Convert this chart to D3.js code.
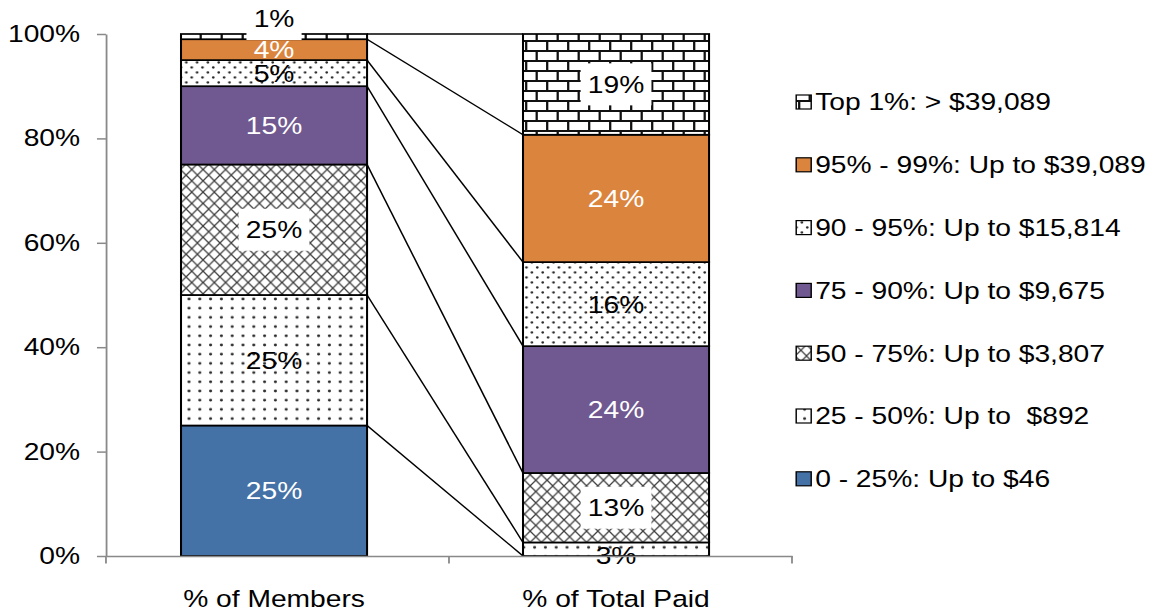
<!DOCTYPE html>
<html>
<head>
<meta charset="utf-8">
<script src="https://cdn.jsdelivr.net/npm/d3@7"></script>
<style>
  html, body { margin: 0; padding: 0; background: #fff; }
  svg { display: block; }
  text { font-family: "Liberation Sans", Arial, sans-serif; }
</style>
</head>
<body>
<script>
// Distribution of members vs. total paid, by spending tier
const categories = ["% of Members", "% of Total Paid"];
const tiers = [
  "0 - 25%: Up to $46",
  "25 - 50%: Up to  $892",
  "50 - 75%: Up to $3,807",
  "75 - 90%: Up to $9,675",
  "90 - 95%: Up to $15,814",
  "95% - 99%: Up to $39,089",
  "Top 1%: > $39,089"
];
const membersPct = [25, 25, 25, 15, 5, 4, 1];
const paidPct = [0, 2.6, 13.3, 24.3, 16.1, 24.4, 19.3];
const yTicks = [0, 20, 40, 60, 80, 100];

// Drawing surface: laid out on a 960-wide grid and stretched to the window width
const W = 960, H = 611;
const svg = d3.select("body").append("svg")
  .attr("width", 1152).attr("height", 611)
  .attr("viewBox", `0 0 ${W} ${H}`)
  .attr("preserveAspectRatio", "none");

const FONT = 23.5;
const defs = svg.append("defs");

// Fill patterns
const brick = defs.append("pattern").attr("id", "p-brick")
  .attr("patternUnits", "userSpaceOnUse").attr("width", 17.5).attr("height", 20);
brick.append("rect").attr("width", 17.5).attr("height", 20).attr("fill", "#fff");
brick.append("path").attr("d", "M0,1H17.5M0,11H17.5")
  .attr("stroke", "#111").attr("stroke-width", 2.2);
brick.append("path").attr("d", "M1,1V11M9.75,11V21")
  .attr("stroke", "#111").attr("stroke-width", 1.9);

const cw = 9.4, ch = 11.3;
const cross = defs.append("pattern").attr("id", "p-cross")
  .attr("patternUnits", "userSpaceOnUse").attr("width", cw).attr("height", ch);
cross.append("rect").attr("width", cw).attr("height", ch).attr("fill", "#fff");
cross.append("path")
  .attr("d", `M-1,${-ch / cw}L${cw + 1},${ch + ch / cw}M${cw + 1},${-ch / cw}L-1,${ch + ch / cw}`)
  .attr("stroke", "#3c3c3c").attr("stroke-width", 1.15);

const dotsGrid = defs.append("pattern").attr("id", "p-dots")
  .attr("patternUnits", "userSpaceOnUse").attr("width", 9).attr("height", 9.2);
dotsGrid.append("rect").attr("width", 9).attr("height", 9.2).attr("fill", "#fff");
dotsGrid.append("circle").attr("cx", 4.5).attr("cy", 4.6).attr("r", 1.3).attr("fill", "#2a2a2a");

const dotsStag = defs.append("pattern").attr("id", "p-dots2")
  .attr("patternUnits", "userSpaceOnUse").attr("width", 9).attr("height", 10);
dotsStag.append("rect").attr("width", 9).attr("height", 10).attr("fill", "#fff");
dotsStag.append("circle").attr("cx", 2.25).attr("cy", 2.5).attr("r", 1.15).attr("fill", "#2a2a2a");
dotsStag.append("circle").attr("cx", 6.75).attr("cy", 7.5).attr("r", 1.15).attr("fill", "#2a2a2a");

// Per-tier appearance (bottom tier first)
const tierStyle = [
  { fill: "#4471A6", text: "#fff", box: false },
  { fill: "url(#p-dots)", text: "#000", box: false },
  { fill: "url(#p-cross)", text: "#000", box: true },
  { fill: "#6F5990", text: "#fff", box: false },
  { fill: "url(#p-dots2)", text: "#000", box: false },
  { fill: "#DB843E", text: "#fff", box: false },
  { fill: "url(#p-brick)", text: "#000", box: true }
];

// Scales
const x = d3.scaleBand().domain(categories).range([88.3, 660])
  .paddingInner(0.456).paddingOuter(0.231).align(0.475);
const y = d3.scaleLinear().domain([0, 100]).range([556, 34]);

const series = [membersPct, paidPct];
const cums = series.map(vals => {
  const c = [0];
  vals.forEach(v => c.push(c[c.length - 1] + v));
  return c;
});

// Connector lines between matching tier boundaries
const bw = x.bandwidth();
const gConn = svg.append("g");
for (let i = 1; i <= tiers.length; i++) {
  gConn.append("line")
    .attr("x1", x(categories[0]) + bw).attr("y1", y(cums[0][i]))
    .attr("x2", x(categories[1])).attr("y2", y(cums[1][i]))
    .attr("stroke", "#000").attr("stroke-width", 1.3);
}

// Stacked segments
const gBars = svg.append("g");
categories.forEach((cat, ci) => {
  series[ci].forEach((v, ti) => {
    if (v <= 0) return;
    const y0 = y(cums[ci][ti]), y1 = y(cums[ci][ti + 1]);
    gBars.append("rect")
      .attr("x", x(cat)).attr("y", y1)
      .attr("width", bw).attr("height", y0 - y1)
      .attr("fill", tierStyle[ti].fill)
      .attr("stroke", "#000").attr("stroke-width", 1.7);
  });
});

// Value labels
const gLab = svg.append("g");
categories.forEach((cat, ci) => {
  const vals = series[ci];
  const firstShown = vals.findIndex(v => v >= 0.5);
  vals.forEach((v, ti) => {
    if (v < 0.5) return;
    const yb = y(cums[ci][ti]), yt = y(cums[ci][ti + 1]);
    let cy = (yb + yt) / 2;
    const thin = (yb - yt) < 16;
    if (thin && ti === vals.length - 1) cy = yt - 15;   // thin top slice: label above
    else if (thin && ti === firstShown) cy = yb;         // thin bottom slice: label on the baseline
    const cx = x(cat) + bw / 2;
    const g = gLab.append("g");
    const t = g.append("text")
      .attr("x", cx).attr("y", cy).attr("dy", "0.36em")
      .attr("text-anchor", "middle")
      .attr("font-size", FONT)
      .attr("fill", tierStyle[ti].text)
      .text(Math.round(v) + "%");
    if (tierStyle[ti].box) {
      const tw = t.node().getComputedTextLength();
      g.insert("rect", "text")
        .attr("x", cx - tw / 2 - 6).attr("y", cy - 21)
        .attr("width", tw + 12).attr("height", 42)
        .attr("fill", "#fff");
    }
  });
});

// Axes
const axisColor = "#898989";
const yAxis = svg.append("g").attr("transform", "translate(88.3,0)")
  .call(d3.axisLeft(y).tickValues(yTicks).tickFormat(d => d + "%")
    .tickSize(7.5).tickSizeOuter(0).tickPadding(14.1));
const xAxis = svg.append("g").attr("transform", "translate(0,556)")
  .call(d3.axisBottom(x).tickSize(0).tickPadding(34.5));

// Category boundary ticks on the horizontal axis
const [r0, r1] = x.range();
d3.range(categories.length + 1).forEach(i => {
  const bx = r0 + i * (r1 - r0) / categories.length;
  xAxis.append("line").attr("x1", bx).attr("x2", bx).attr("y1", 0).attr("y2", 7.5)
    .attr("stroke", axisColor).attr("stroke-width", 1.5);
});

[yAxis, xAxis].forEach(a => {
  a.selectAll("path, line").attr("stroke", axisColor).attr("stroke-width", 1.5);
  a.selectAll("text").attr("font-size", FONT).attr("fill", "#000")
    .attr("font-family", "'Liberation Sans', Arial, sans-serif");
});

// Legend (top tier listed first)
const gLeg = svg.append("g");
const legOrder = d3.range(tiers.length).reverse();
legOrder.forEach((ti, row) => {
  const cy = 102 + row * 62.8;
  gLeg.append("rect")
    .attr("x", 663.5).attr("y", cy - 7)
    .attr("width", 12.5).attr("height", 14)
    .attr("fill", tierStyle[ti].fill)
    .attr("stroke", "#000").attr("stroke-width", 1.2);
  gLeg.append("text")
    .attr("x", 679.3).attr("y", cy).attr("dy", "0.36em")
    .attr("font-size", FONT).attr("fill", "#000")
    .style("white-space", "pre")
    .attr("xml:space", "preserve")
    .text(tiers[ti]);
});
</script>
</body>
</html>
